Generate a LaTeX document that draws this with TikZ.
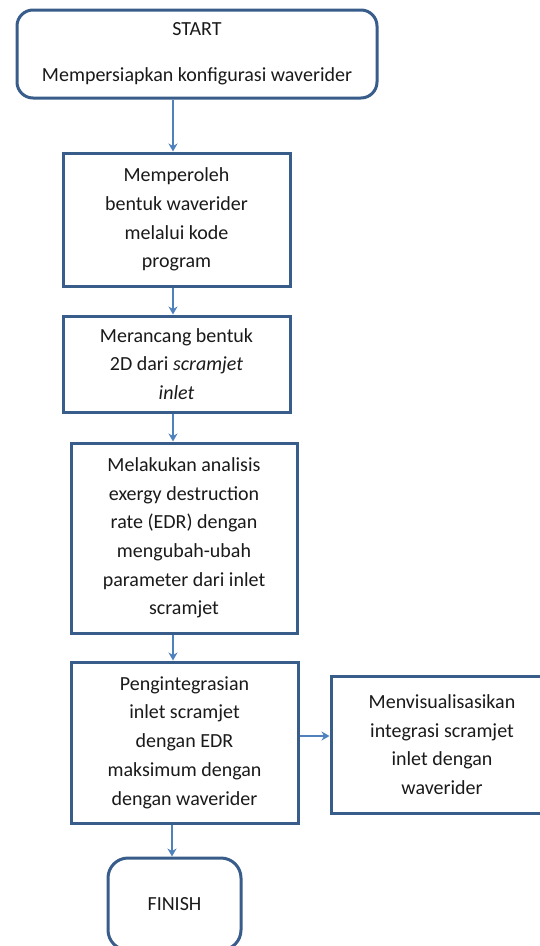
\documentclass[tikz,border=0pt]{standalone}
\usepackage{fontspec}
\setmainfont{Carlito}
\usetikzlibrary{arrows.meta,calc}
\definecolor{boxline}{HTML}{385D8A}
\definecolor{arrowcol}{HTML}{4F81BD}
\definecolor{txt}{HTML}{1A1A1A}
\begin{document}
\begin{tikzpicture}[x=1pt,y=-1pt,
  every node/.style={font=\fontsize{20}{28.7}\selectfont, text=txt, align=center, inner sep=0pt},
  procbox/.style={draw=boxline, line width=3pt, fill=white},
  termbox/.style={procbox, rounded corners=16pt},
  flow/.style={draw=arrowcol, line width=1.3pt, -{Stealth[length=8pt,width=9pt]}}]
\useasboundingbox (0,0) rectangle (540,946);
\begin{scope}
\clip (0,0) rectangle (540,946);
\node[termbox, minimum width=360pt, minimum height=88pt] (start) at (197,54)
  {START\\[17pt]Mempersiapkan konfigurasi waverider};
\node[procbox, minimum width=227pt, minimum height=133pt] (b2) at (176.5,219.5)
  {Memperoleh\\bentuk waverider\\melalui kode\\program};
\node[procbox, minimum width=227pt, minimum height=96pt] (b3) at (176.5,364)
  {Merancang bentuk\\2D dari \textit{scramjet}\\\textit{inlet}};
\node[procbox, minimum width=226pt, minimum height=190pt] (b4) at (184,538)
  {Melakukan analisis\\exergy destruction\\rate (EDR) dengan\\mengubah-ubah\\parameter dari inlet\\scramjet};
\node[procbox, minimum width=227pt, minimum height=161pt] (b5) at (184.5,742.5)
  {Pengintegrasian\\inlet scramjet\\dengan EDR\\maksimum dengan\\dengan waverider};
\node[procbox, minimum width=222pt, minimum height=137pt] (b6) at (442,744.5)
  {Menvisualisasikan\\integrasi scramjet\\inlet dengan\\waverider};
\node[termbox, rounded corners=20pt, minimum width=133pt, minimum height=92pt] (finish) at (174.5,904)
  {FINISH};
\end{scope}
\draw[flow] ([xshift=-24pt]start.south) -- ([xshift=-3.5pt]b2.north);
\draw[flow] ([xshift=-3.5pt]b2.south) -- ([xshift=-3.5pt]b3.north);
\draw[flow] ([xshift=-3.5pt]b3.south) -- ([xshift=-11pt]b4.north);
\draw[flow] ([xshift=-11pt]b4.south) -- ([xshift=-11.5pt]b5.north);
\draw[flow] ([yshift=6.5pt]b5.east) -- ([yshift=6.5pt]b5.east -| b6.west);
\draw[flow] ([xshift=-12.5pt]b5.south) -- ([xshift=-2.5pt]finish.north);
\end{tikzpicture}
\end{document}
